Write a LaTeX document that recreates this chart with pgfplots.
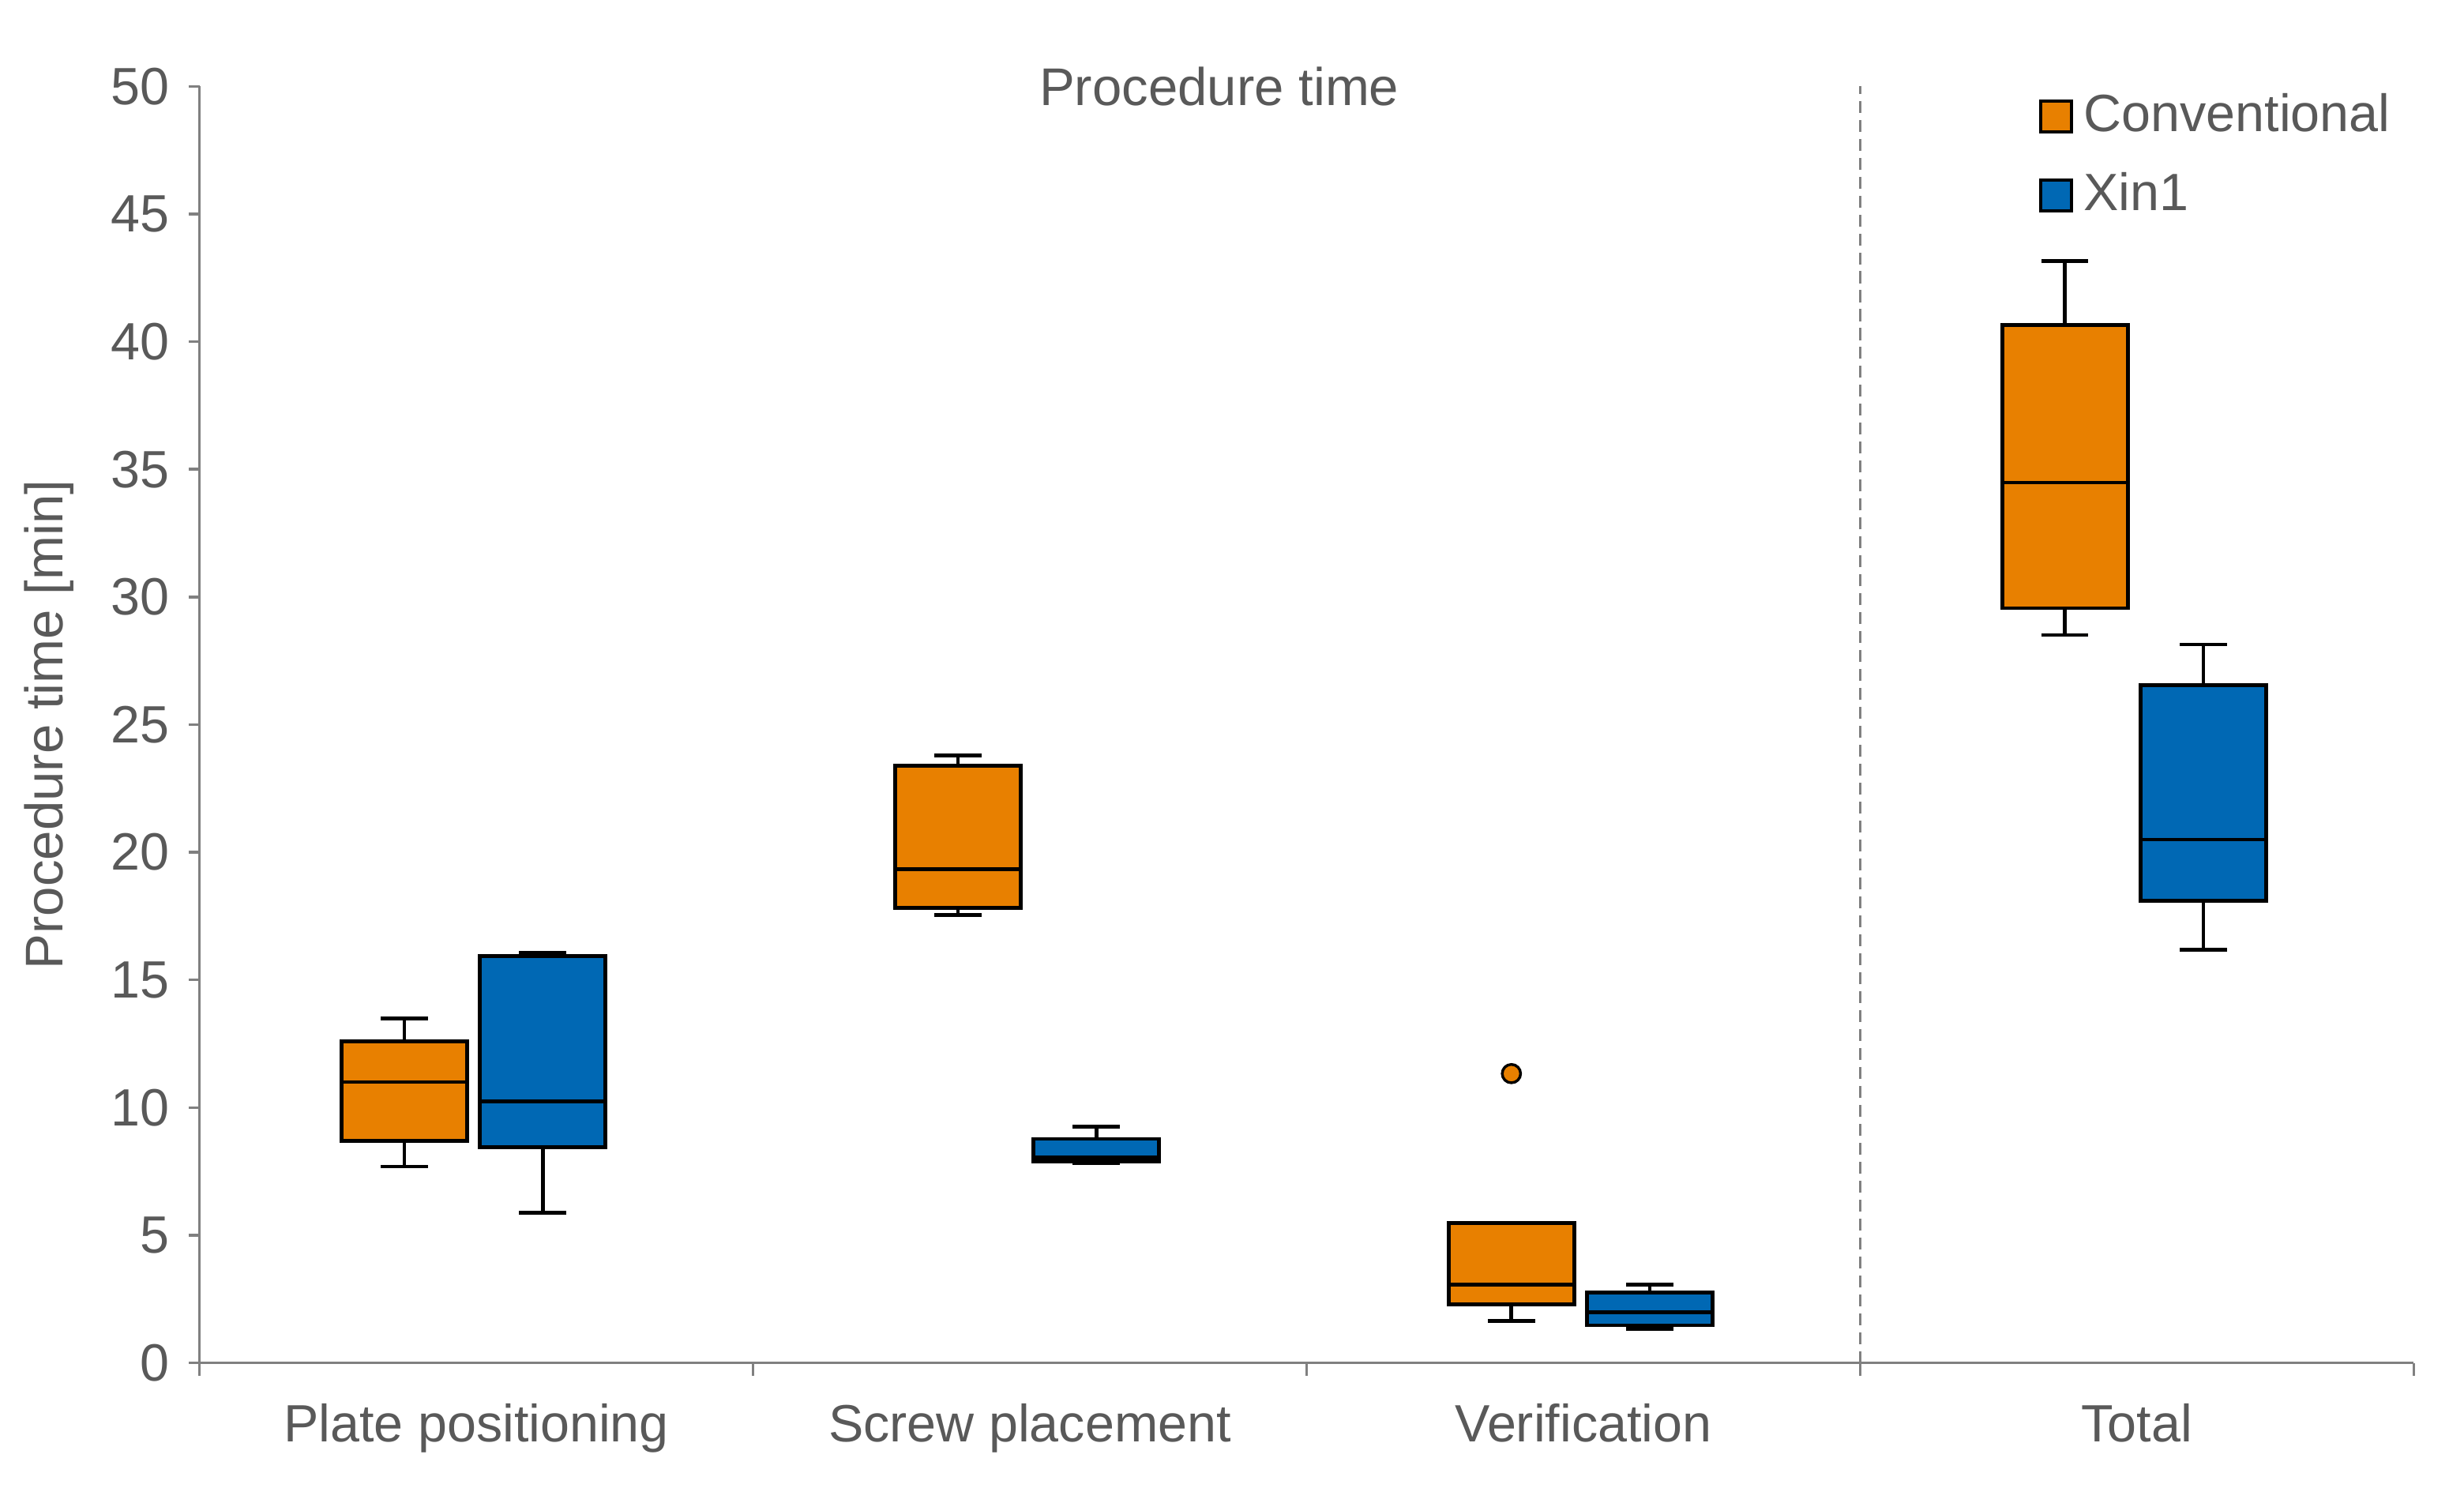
\documentclass[border=0pt]{standalone}
\usepackage{fontspec}
\setmainfont{Liberation Sans}
\usepackage{pgfplots}
\pgfplotsset{compat=1.18}
\usepgfplotslibrary{statistics}

\definecolor{conv}{RGB}{232,128,0}
\definecolor{xin}{RGB}{0,104,180}
\definecolor{txtgray}{RGB}{89,89,89}
\definecolor{axgray}{RGB}{128,128,128}

\begin{document}
\begin{tikzpicture}
  \begin{axis}[
      scale only axis,
      width=14.38cm,
      height=8.29cm,
      xmin=-0.5, xmax=3.5,
      ymin=0, ymax=50,
      ytick={0,5,...,50},
      xtick={0,1,2,3},
      xticklabels={Plate positioning, Screw placement, Verification, Total},
      minor xtick={-0.5,0.5,1.5,2.5,3.5},
      major x tick style={draw=none},
      axis lines*=left,
      axis line style={axgray, line width=0.5pt, -},
      every tick/.style={axgray, line width=0.5pt},
      tick align=outside,
      major tick length=2pt,
      minor tick length=2.4pt,
      /pgf/number format/assume math mode=true,
      tick label style={text=txtgray, font=\fontsize{9.7}{11.6}\selectfont},
      xticklabel style={yshift=-0.07cm},
      ylabel={Procedure time [min]},
      ylabel style={text=txtgray, font=\fontsize{9.8}{11.7}\selectfont},
      boxplot/draw direction=y,
      legend style={
        at={(1,1)},
        anchor=north east,
        xshift=0.03cm,
        yshift=0.1cm,
        draw=none,
        fill=none,
        font=\fontsize{9.7}{11.6}\selectfont,
        text=txtgray,
        row sep=2pt
      },
      legend cell align=left,
      clip=false,
    ]
    \coordinate (SW) at (rel axis cs:0,0);
    \coordinate (NE) at (rel axis cs:1,1);

    % separator before Total
    \addplot[forget plot, axgray, line width=0.5pt, dash pattern=on 2.2pt off 1.3pt]
      coordinates {(2.5,0) (2.5,50)};

    %% Conventional %%
    \addplot[forget plot, draw=black, fill=conv, line width=0.7pt,
      boxplot prepared={draw position=-0.13, lower whisker=7.69, lower quartile=8.69,
        median=11.0, upper quartile=12.6, upper whisker=13.5,
        box extend=0.227, whisker extend=0.085}] coordinates {};
    \addplot[forget plot, draw=black, fill=conv, line width=0.7pt,
      boxplot prepared={draw position=0.87, lower whisker=17.55, lower quartile=17.83,
        median=19.33, upper quartile=23.39, upper whisker=23.78,
        box extend=0.227, whisker extend=0.085}] coordinates {};
    \addplot[forget plot, draw=black, fill=conv, line width=0.7pt,
      mark=*, mark size=1.7pt, mark options={fill=conv, draw=black, line width=0.5pt},
      boxplot prepared={draw position=1.87, lower whisker=1.65, lower quartile=2.3,
        median=3.06, upper quartile=5.49, upper whisker=5.49,
        box extend=0.227, whisker extend=0.085}]
      table[row sep=\\, y index=0] {data\\ 11.33\\};
    \addplot[forget plot, draw=black, fill=conv, line width=0.7pt,
      boxplot prepared={draw position=2.87, lower whisker=28.51, lower quartile=29.56,
        median=34.48, upper quartile=40.64, upper whisker=43.16,
        box extend=0.227, whisker extend=0.085}] coordinates {};

    %% Xin1 %%
    \addplot[forget plot, draw=black, fill=xin, line width=0.7pt,
      boxplot prepared={draw position=0.12, lower whisker=5.88, lower quartile=8.44,
        median=10.25, upper quartile=15.93, upper whisker=16.07,
        box extend=0.227, whisker extend=0.085}] coordinates {};
    \addplot[forget plot, draw=black, fill=xin, line width=0.7pt,
      boxplot prepared={draw position=1.12, lower whisker=7.84, lower quartile=7.9,
        median=8.04, upper quartile=8.77, upper whisker=9.25,
        box extend=0.227, whisker extend=0.085}] coordinates {};
    \addplot[forget plot, draw=black, fill=xin, line width=0.7pt,
      boxplot prepared={draw position=2.12, lower whisker=1.33, lower quartile=1.47,
        median=1.98, upper quartile=2.75, upper whisker=3.06,
        box extend=0.227, whisker extend=0.085}] coordinates {};
    \addplot[forget plot, draw=black, fill=xin, line width=0.7pt,
      boxplot prepared={draw position=3.12, lower whisker=16.19, lower quartile=18.1,
        median=20.5, upper quartile=26.54, upper whisker=28.14,
        box extend=0.227, whisker extend=0.085}] coordinates {};

    \addlegendimage{legend image code/.code={\draw[draw=black, fill=conv, line width=0.6pt] (0cm,-0.1cm) rectangle (0.2cm,0.1cm);}}
    \addlegendentry{Conventional}
    \addlegendimage{legend image code/.code={\draw[draw=black, fill=xin, line width=0.6pt] (0cm,-0.1cm) rectangle (0.2cm,0.1cm);}}
    \addlegendentry{Xin1}

    \node[text=txtgray, font=\fontsize{9.8}{11.7}\selectfont] at (axis cs:1.342,50) {Procedure time};
  \end{axis}
  \pgfresetboundingbox
  \path[use as bounding box] (SW) ++(-1.296cm,-0.81cm) rectangle ([xshift=0.327cm,yshift=0.561cm]NE);
\end{tikzpicture}
\end{document}
